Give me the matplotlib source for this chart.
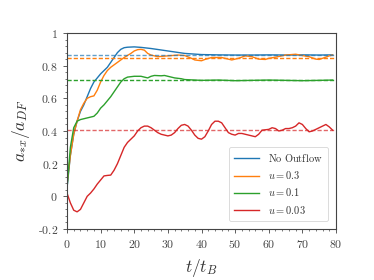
import matplotlib
matplotlib.use("Agg")
import matplotlib.pyplot as plt
import numpy as np

plt.rcParams['mathtext.fontset'] = 'cm'
plt.rcParams['font.family'] = ['DejaVu Serif']

t_blue = [0, 1, 2, 3, 4, 5, 6, 7, 8, 10, 12, 13, 14, 15, 16, 17, 18, 20, 22, 25, 30, 35, 40, 45, 50, 55, 60, 65, 70, 75, 79]
v_blue = [0.05, 0.25, 0.38, 0.46, 0.52, 0.56, 0.61, 0.66, 0.7, 0.75, 0.79, 0.82, 0.85, 0.88, 0.9, 0.91, 0.913, 0.915, 0.912, 0.905, 0.89, 0.875, 0.868, 0.866, 0.865, 0.865, 0.866, 0.865, 0.866, 0.865, 0.866]

t_orange = [0, 1, 2, 3, 4, 5, 6, 7, 8, 9, 10, 11, 12, 13, 15, 17, 19, 20, 21, 22, 23, 24, 25, 27, 30, 33, 35, 37, 38, 40, 41, 43, 46, 48, 49, 51, 53, 55, 57, 59, 60, 62, 65, 68, 70, 72, 74, 75, 76, 78, 79]
v_orange = [0.07, 0.25, 0.38, 0.46, 0.53, 0.57, 0.6, 0.61, 0.615, 0.65, 0.7, 0.74, 0.77, 0.79, 0.82, 0.85, 0.875, 0.89, 0.898, 0.9, 0.895, 0.875, 0.865, 0.855, 0.86, 0.865, 0.862, 0.845, 0.835, 0.83, 0.838, 0.85, 0.85, 0.84, 0.835, 0.845, 0.86, 0.855, 0.84, 0.838, 0.845, 0.852, 0.865, 0.87, 0.862, 0.855, 0.84, 0.838, 0.845, 0.86, 0.865]

t_green = [0, 1, 2, 3, 4, 5, 6, 7, 8, 9, 10, 11, 12, 13, 14, 15, 16, 17, 18, 20, 22, 23, 24, 25, 26, 28, 29, 30, 32, 34, 35, 38, 40, 45, 50, 55, 60, 65, 70, 75, 79]
v_green = [0.05, 0.3, 0.42, 0.46, 0.47, 0.475, 0.48, 0.485, 0.49, 0.51, 0.54, 0.56, 0.585, 0.61, 0.64, 0.67, 0.7, 0.72, 0.73, 0.735, 0.735, 0.73, 0.725, 0.735, 0.74, 0.738, 0.74, 0.735, 0.725, 0.72, 0.715, 0.712, 0.71, 0.712, 0.708, 0.71, 0.712, 0.71, 0.708, 0.71, 0.712]

t_red = [0, 1, 2, 3, 4, 5, 6, 7, 8, 9, 10, 11, 12, 13, 14, 15, 16, 17, 18, 19, 20, 21, 22, 23, 24, 25, 26, 27, 28, 30, 31, 32, 33, 34, 35, 36, 37, 38, 39, 40, 41, 42, 43, 44, 45, 46, 47, 48, 49, 50, 51, 52, 53, 54, 55, 56, 57, 58, 60, 61, 62, 63, 64, 65, 66, 67, 68, 69, 70, 71, 72, 73, 74, 75, 76, 77, 78, 79]
v_red = [0.02, -0.04, -0.085, -0.095, -0.08, -0.04, 0.0, 0.02, 0.045, 0.075, 0.1, 0.125, 0.128, 0.13, 0.16, 0.2, 0.25, 0.3, 0.33, 0.35, 0.37, 0.4, 0.42, 0.43, 0.43, 0.42, 0.405, 0.39, 0.38, 0.37, 0.375, 0.39, 0.415, 0.435, 0.44, 0.43, 0.405, 0.375, 0.355, 0.35, 0.365, 0.4, 0.44, 0.46, 0.46, 0.45, 0.42, 0.39, 0.38, 0.375, 0.385, 0.385, 0.38, 0.375, 0.37, 0.365, 0.38, 0.405, 0.41, 0.42, 0.415, 0.4, 0.405, 0.415, 0.415, 0.42, 0.43, 0.45, 0.44, 0.415, 0.395, 0.4, 0.41, 0.42, 0.43, 0.44, 0.425, 0.405]

labels = [r'$\mathrm{No\ Outflow}$', r'$u=0.3$', r'$u=0.1$', r'$u=0.03$']
colors = ['#1f77b4', '#ff7f0e', '#2ca02c', '#d62728']
asymptotes = [0.865, 0.847, 0.71, 0.408]

xticks = [0, 10, 20, 30, 40, 50, 60, 70, 80]
yticks = [-0.2, 0, 0.2, 0.4, 0.6, 0.8, 1.0]
ytick_labels = ['-0.2', '0', '0.2', '0.4', '0.6', '0.8', '1']

fig = plt.figure(figsize=(3.74, 2.80), dpi=100)
ax = fig.add_axes([67/374, 1-229/280, (336-67)/374, (229-33)/280])

series = [(t_blue, v_blue), (t_orange, v_orange), (t_green, v_green), (t_red, v_red)]
for (t, v), c, lab in zip(series, colors, labels):
    ax.plot(t, v, color=c, lw=1.0, label=lab)
for c, a, al in zip(colors, asymptotes, [0.7, 1.0, 1.0, 0.7]):
    ax.axhline(a, color=c, ls='--', lw=1.0, alpha=al, dashes=(3, 1.5))

ax.set_xlim(0, 80)
ax.set_ylim(-0.2, 1.0)
ax.set_xticks(xticks)
ax.set_xticklabels([f'${x}$' for x in xticks], fontsize=8.5)
ax.set_yticks(yticks)
ax.set_yticklabels([f'${s}$' if not s.startswith('-') else r'$\text{-}' + s[1:] + '$' for s in ytick_labels], fontsize=8.5)
ax.set_xticks(np.arange(0, 81, 2), minor=True)
ax.set_yticks(np.arange(-0.2, 1.001, 0.04), minor=True)
ax.tick_params(which='major', length=3, width=0.6, color='#444444')
ax.tick_params(which='minor', length=1.5, width=0.5, color='#444444')
ax.tick_params(colors='#444444', labelcolor='#444444')
for s in ax.spines.values():
    s.set_color('#444444')
    s.set_linewidth(0.8)

ax.set_xlabel(r'$t/t_B$', fontsize=12.5, color='#333333', labelpad=4)
ax.set_ylabel(r'$a_{*x}/a_{DF}$', fontsize=12.5, color='#333333')

leg = ax.legend(loc='lower right', fontsize=7.5, frameon=True, handlelength=2.4,
                borderpad=0.5, labelspacing=0.5, handletextpad=0.9,
                bbox_to_anchor=(0.99, 0.015))
leg.get_frame().set_edgecolor('#cccccc')
leg.get_frame().set_linewidth(0.6)
for txt in leg.get_texts():
    txt.set_color('#333333')

fig.savefig('out.png', dpi=100)
